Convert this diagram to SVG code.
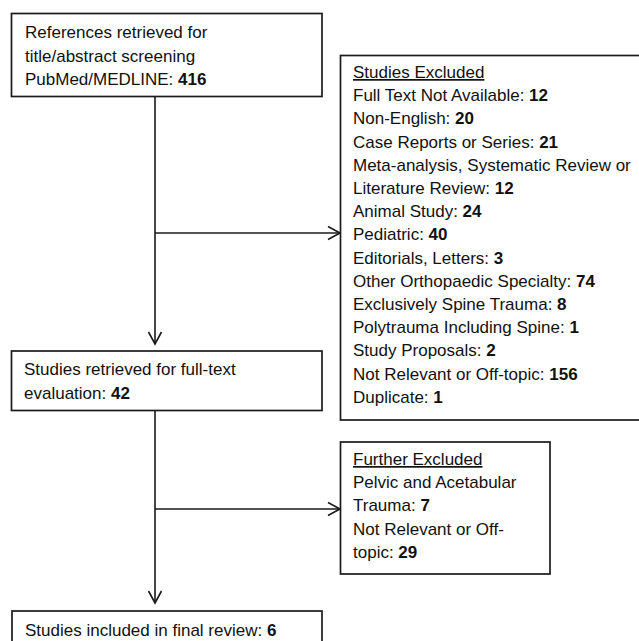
<svg xmlns="http://www.w3.org/2000/svg" width="639" height="641" viewBox="0 0 639 641">
<style>
.box{fill:#fff;stroke:#1a1a1a;stroke-width:1.7}
.t{font-family:"Liberation Sans",Arial,sans-serif;font-size:17px;fill:#111}
.b{font-weight:bold}
.u{text-decoration:underline}
.c{fill:none;stroke:#1a1a1a;stroke-width:1.6}
</style>
<defs>
<marker id="ah" markerUnits="userSpaceOnUse" markerWidth="16" markerHeight="16" viewBox="-14 -8 16 16" refX="0" refY="0" orient="auto">
<path d="M -12 -6.5 L 0 0 L -12 6.5" fill="none" stroke="#1a1a1a" stroke-width="1.6"/>
</marker>
</defs>
<rect width="639" height="641" fill="#fff"/>
<g id="connectors">
<path class="c" d="M155 97 V344" marker-end="url(#ah)"/>
<path class="c" d="M155 233 H340" marker-end="url(#ah)"/>
<path class="c" d="M155 411 V603" marker-end="url(#ah)"/>
<path class="c" d="M155 509 H340" marker-end="url(#ah)"/>
</g>
<g id="node-references">
<rect class="box" x="11.5" y="13.5" width="310.5" height="83"/>
<text class="t" x="25" y="38">References retrieved for</text>
<text class="t" x="25" y="61.5">title/abstract screening</text>
<text class="t" x="25" y="85">PubMed/MEDLINE: <tspan class="b">416</tspan></text>
</g>
<g id="node-excluded">
<rect class="box" x="340.5" y="55.5" width="310" height="364.5"/>
<text class="t u" x="353" y="78">Studies Excluded</text>
<text class="t" x="353" y="101.2">Full Text Not Available: <tspan class="b">12</tspan></text>
<text class="t" x="353" y="124.4">Non-English: <tspan class="b">20</tspan></text>
<text class="t" x="353" y="147.6">Case Reports or Series: <tspan class="b">21</tspan></text>
<text class="t" x="353" y="170.8">Meta-analysis, Systematic Review or</text>
<text class="t" x="353" y="194">Literature Review: <tspan class="b">12</tspan></text>
<text class="t" x="353" y="217.2">Animal Study: <tspan class="b">24</tspan></text>
<text class="t" x="353" y="240.4">Pediatric: <tspan class="b">40</tspan></text>
<text class="t" x="353" y="263.6">Editorials, Letters: <tspan class="b">3</tspan></text>
<text class="t" x="353" y="286.8">Other Orthopaedic Specialty: <tspan class="b">74</tspan></text>
<text class="t" x="353" y="310">Exclusively Spine Trauma: <tspan class="b">8</tspan></text>
<text class="t" x="353" y="333.2">Polytrauma Including Spine: <tspan class="b">1</tspan></text>
<text class="t" x="353" y="356.4">Study Proposals: <tspan class="b">2</tspan></text>
<text class="t" x="353" y="379.6">Not Relevant or Off-topic: <tspan class="b">156</tspan></text>
<text class="t" x="353" y="402.8">Duplicate: <tspan class="b">1</tspan></text>
</g>
<g id="node-fulltext">
<rect class="box" x="11.5" y="351" width="310.5" height="59.5"/>
<text class="t" x="24" y="375">Studies retrieved for full-text</text>
<text class="t" x="24" y="398.5">evaluation: <tspan class="b">42</tspan></text>
</g>
<g id="node-further">
<rect class="box" x="340.5" y="442" width="209.5" height="132"/>
<text class="t u" x="353" y="465">Further Excluded</text>
<text class="t" x="353" y="488.2">Pelvic and Acetabular</text>
<text class="t" x="353" y="511.4">Trauma: <tspan class="b">7</tspan></text>
<text class="t" x="353" y="534.6">Not Relevant or Off-</text>
<text class="t" x="353" y="557.8">topic: <tspan class="b">29</tspan></text>
</g>
<g id="node-included">
<rect class="box" x="12" y="611" width="310" height="40"/>
<text class="t" x="25" y="636">Studies included in final review: <tspan class="b">6</tspan></text>
</g>
</svg>
